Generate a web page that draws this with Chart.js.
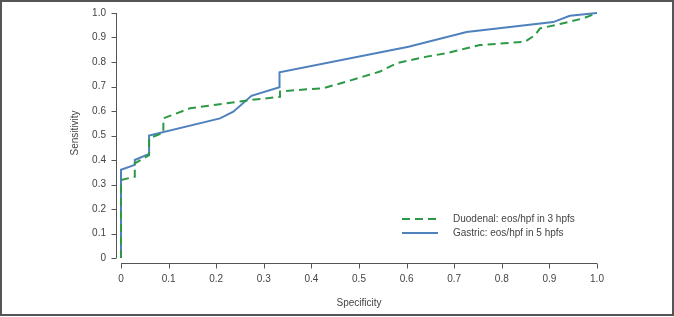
<!DOCTYPE html>
<html lang="en">
<head>
  <meta charset="UTF-8">
  <title>ROC curves</title>
  <style>
    html, body { margin: 0; padding: 0; background: #fff; }
    #wrap { width: 674px; height: 317px; }
  </style>
</head>
<body>
  <div id="wrap"><canvas id="roc"></canvas></div>

  <script src="https://cdn.jsdelivr.net/npm/chart.js"></script>
  <script>
    // values
    const duoSpec = [0, 0, 0.029, 0.029, 0.059, 0.059, 0.089, 0.089, 0.145, 0.274, 0.334, 0.334, 0.39, 0.425, 0.474, 0.544, 0.579, 0.642, 0.684, 0.726, 0.754, 0.849, 0.87, 0.88, 0.922, 0.971, 1.0];
    const duoSens = [0, 0.318, 0.332, 0.386, 0.42, 0.489, 0.511, 0.57, 0.611, 0.645, 0.658, 0.679, 0.689, 0.693, 0.72, 0.761, 0.795, 0.822, 0.836, 0.856, 0.869, 0.883, 0.91, 0.937, 0.955, 0.978, 1.0];
    const gasSpec = [0, 0, 0.029, 0.029, 0.059, 0.059, 0.208, 0.236, 0.274, 0.333, 0.333, 0.604, 0.726, 0.908, 0.943, 1.0];
    const gasSens = [0, 0.36, 0.38, 0.40, 0.425, 0.50, 0.57, 0.597, 0.662, 0.697, 0.758, 0.862, 0.922, 0.963, 0.989, 1.0];
    const tickVals = [0, 0.1, 0.2, 0.3, 0.4, 0.5, 0.6, 0.7, 0.8, 0.9, 1.0];
    const seriesNames = ['Duodenal: eos/hpf in 3 hpfs', 'Gastric: eos/hpf in 5 hpfs'];
    const xTitle = 'Specificity';
    const yTitle = 'Sensitivity';

    const GREEN = '#2c9946';
    const BLUE = '#4f81bd';
    const INK = '#444';
    const FONT = '"Liberation Sans", Arial, sans-serif';

    const pts = (xs, ys) => xs.map((x, i) => ({ x: x, y: ys[i] }));
    const fmt = v => (v === 0 ? '0' : v.toFixed(1));

    // R-style detached axes, titles, legend and outer frame
    const decor = {
      id: 'decor',
      afterDraw(chart) {
        const ctx = chart.ctx;
        const xs = chart.scales.x, ys = chart.scales.y;
        const a = chart.chartArea;
        ctx.save();
        ctx.strokeStyle = '#555';
        ctx.lineWidth = 1;

        // x axis
        const ax = a.bottom + 5.5;
        ctx.beginPath();
        ctx.moveTo(xs.getPixelForValue(0), ax);
        ctx.lineTo(xs.getPixelForValue(1), ax);
        tickVals.forEach(v => {
          const p = Math.round(xs.getPixelForValue(v)) + 0.5;
          ctx.moveTo(p, ax);
          ctx.lineTo(p, ax + 5);
        });
        ctx.stroke();

        // y axis
        const ay = a.left - 4.5;
        ctx.beginPath();
        ctx.moveTo(ay, ys.getPixelForValue(0));
        ctx.lineTo(ay, ys.getPixelForValue(1));
        tickVals.forEach(v => {
          const p = Math.round(ys.getPixelForValue(v)) + 0.5;
          ctx.moveTo(ay, p);
          ctx.lineTo(ay - 5, p);
        });
        ctx.stroke();

        // axis titles
        ctx.fillStyle = INK;
        ctx.font = '10px ' + FONT;
        ctx.textAlign = 'center';
        ctx.textBaseline = 'middle';
        ctx.fillText(xTitle, (a.left + a.right) / 2, 303);
        ctx.save();
        ctx.translate(75, 133);
        ctx.rotate(-Math.PI / 2);
        ctx.fillText(yTitle, 0, 0);
        ctx.restore();

        // legend
        const rows = [
          { name: seriesNames[0], color: GREEN, dash: [8, 5], y: 219 },
          { name: seriesNames[1], color: BLUE, dash: [], y: 233 }
        ];
        ctx.textAlign = 'left';
        rows.forEach(r => {
          ctx.beginPath();
          ctx.strokeStyle = r.color;
          ctx.lineWidth = 2;
          ctx.setLineDash(r.dash);
          ctx.moveTo(402, r.y);
          ctx.lineTo(438, r.y);
          ctx.stroke();
          ctx.setLineDash([]);
          ctx.fillStyle = INK;
          ctx.fillText(r.name, 453, r.y);
        });

        // frame
        ctx.strokeStyle = '#555';
        ctx.lineWidth = 2;
        ctx.strokeRect(1, 1, 672, 314);
        ctx.restore();
      }
    };

    new Chart(document.getElementById('roc'), {
      type: 'scatter',
      data: {
        datasets: [
          {
            label: seriesNames[0],
            data: pts(duoSpec, duoSens),
            showLine: true,
            borderColor: GREEN,
            borderWidth: 2,
            borderDash: [8, 5],
            pointRadius: 0,
            tension: 0,
            clip: false
          },
          {
            label: seriesNames[1],
            data: pts(gasSpec, gasSens),
            showLine: true,
            borderColor: BLUE,
            borderWidth: 2,
            pointRadius: 0,
            tension: 0,
            clip: false
          }
        ]
      },
      options: {
        responsive: true,
        maintainAspectRatio: false,
        animation: false,
        layout: { padding: { left: 0, right: 77, top: 13, bottom: 0 } },
        plugins: { legend: { display: false }, tooltip: { enabled: false } },
        scales: {
          x: {
            type: 'linear', min: 0, max: 1,
            grid: { display: false }, border: { display: false },
            afterFit: s => { s.height = 59; },
            afterBuildTicks: s => { s.ticks = tickVals.map(v => ({ value: v })); },
            ticks: { padding: 7, color: INK, font: { size: 10, family: FONT }, callback: fmt, maxRotation: 0 }
          },
          y: {
            type: 'linear', min: 0, max: 1,
            grid: { display: false }, border: { display: false },
            afterFit: s => { s.width = 121; },
            afterBuildTicks: s => { s.ticks = tickVals.map(v => ({ value: v })); },
            ticks: { padding: 7, color: INK, font: { size: 10, family: FONT }, callback: fmt }
          }
        }
      },
      plugins: [decor]
    });
  </script>
</body>
</html>
